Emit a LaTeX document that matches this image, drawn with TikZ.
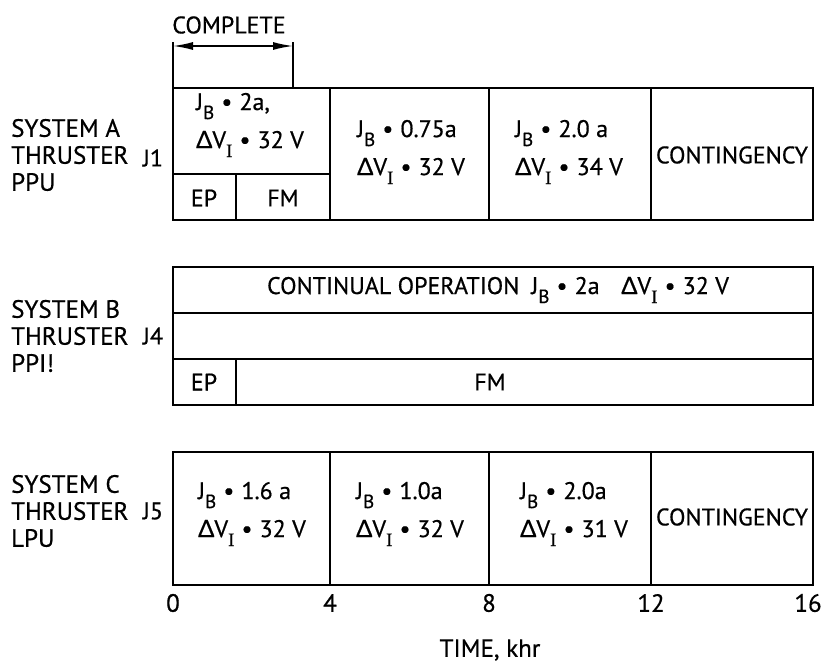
\documentclass[tikz,border=0pt]{standalone}
\usepackage{fontspec}
\setmainfont{PT Sans}[FakeBold=0.6]
\newfontfamily\grkfont{Lato}[FakeBold=0.6]
\newfontfamily\romfont{Liberation Serif}[FakeBold=0.6]
\usepackage{tikz}
\usetikzlibrary{arrows.meta}
% subscripts and the usual cell entries
\newcommand{\lo}[1]{\raisebox{-0.75ex}{\fontsize{19}{19}\selectfont #1}}
\newcommand{\JB}{J\lo{B}}
\newcommand{\DV}{{\grkfont Δ}V\lo{\romfont I}}
\newcommand{\eq}{\hspace{0.3em}•\hspace{0.3em}}

\begin{document}
\begin{tikzpicture}[x=1pt, y=-1pt,
  frame/.style={line width=2.4pt},
  tick/.style={line width=1.6pt},
  dimarrow/.style={{Latex[length=20pt,width=8pt]}-{Latex[length=20pt,width=8pt]}, line width=1.6pt},
  sysname/.style={anchor=west, align=left, inner sep=0pt, font=\fontsize{25}{27}\selectfont},
  jname/.style={font=\fontsize{24}{27}\selectfont},
  entry/.style={align=left, font=\fontsize{24}{38}\selectfont, inner sep=0pt},
  plain/.style={font=\fontsize{24}{25}\selectfont, inner sep=0pt},
  axis/.style={font=\fontsize{25}{25}\selectfont, inner sep=0pt}
]
\useasboundingbox (0,0) rectangle (822,664);

% completed part
\node[plain] (done) at (229,25) {COMPLETE};
\coordinate (cl) at (173,46);
\coordinate (cr) at (293,46);
\coordinate (clb) at (173,88);
\coordinate (crb) at (293,88);
\draw[dimarrow] (cl) -- (cr);
\draw[tick] ([yshift=4pt]cl) -- (clb);
\draw[tick] ([yshift=4pt]cr) -- (crb);

% system A
\draw[frame] (173,88) rectangle (813,220);
\draw[frame] (330,88) -- (330,220) (489,88) -- (489,220) (651,88) -- (651,220);
\draw[frame] (173,174) -- (330,174) (236,174) -- (236,220);
\node[sysname] (sysA) at (11,155) {SYSTEM A\\THRUSTER\\PPU};
\node[jname] (jA) at (153,158) {J1};
\node[entry] (a1) at (250,125) {\JB\eq 2a,\\\DV\eq 32 V};
\node[plain] (a1ep) at (204,198) {EP};
\node[plain] (a1fm) at (283,198) {FM};
\node[entry] (a2) at (411,152) {\JB\eq 0.75a\\\DV\eq 32 V};
\node[entry] (a3) at (569,152) {\JB\eq 2.0 a\\\DV\eq 34 V};
\node[plain] (a4) at (732,155) {CONTINGENCY};

% system B
\draw[frame] (173,267) rectangle (813,405);
\draw[frame] (173,313) -- (813,313) (173,359) -- (813,359) (236,359) -- (236,405);
\node[sysname] (sysB) at (11,336) {SYSTEM B\\THRUSTER\\PPI!};
\node[jname] (jB) at (153,336) {J4};
\node[plain] (b1) at (498,290) {CONTINUAL OPERATION\hspace{0.5em}\JB\eq 2a\hspace{0.9em}\DV\eq 32 V};
\node[plain] (b3ep) at (204,382) {EP};
\node[plain] (b3fm) at (490,382) {FM};

% system C
\draw[frame] (173,452) rectangle (813,585);
\draw[frame] (330,452) -- (330,585) (489,452) -- (489,585) (651,452) -- (651,585);
\node[sysname] (sysC) at (11,511) {SYSTEM C\\THRUSTER\\LPU};
\node[jname] (jC) at (153,511) {J5};
\node[entry] (c1) at (252,514) {\JB\eq 1.6 a\\\DV\eq 32 V};
\node[entry] (c2) at (410,514) {\JB\eq 1.0a\\\DV\eq 32 V};
\node[entry] (c3) at (574,514) {\JB\eq 2.0a\\\DV\eq 31 V};
\node[plain] (c4) at (732,517) {CONTINGENCY};

% time axis
\foreach \t/\x in {0/173, 4/330, 8/489, 12/651, 16/808}
  \node[axis] (t\t) at (\x,603) {\t};
\node[axis] (time) at (490,650) {TIME, khr};
\end{tikzpicture}
\end{document}
